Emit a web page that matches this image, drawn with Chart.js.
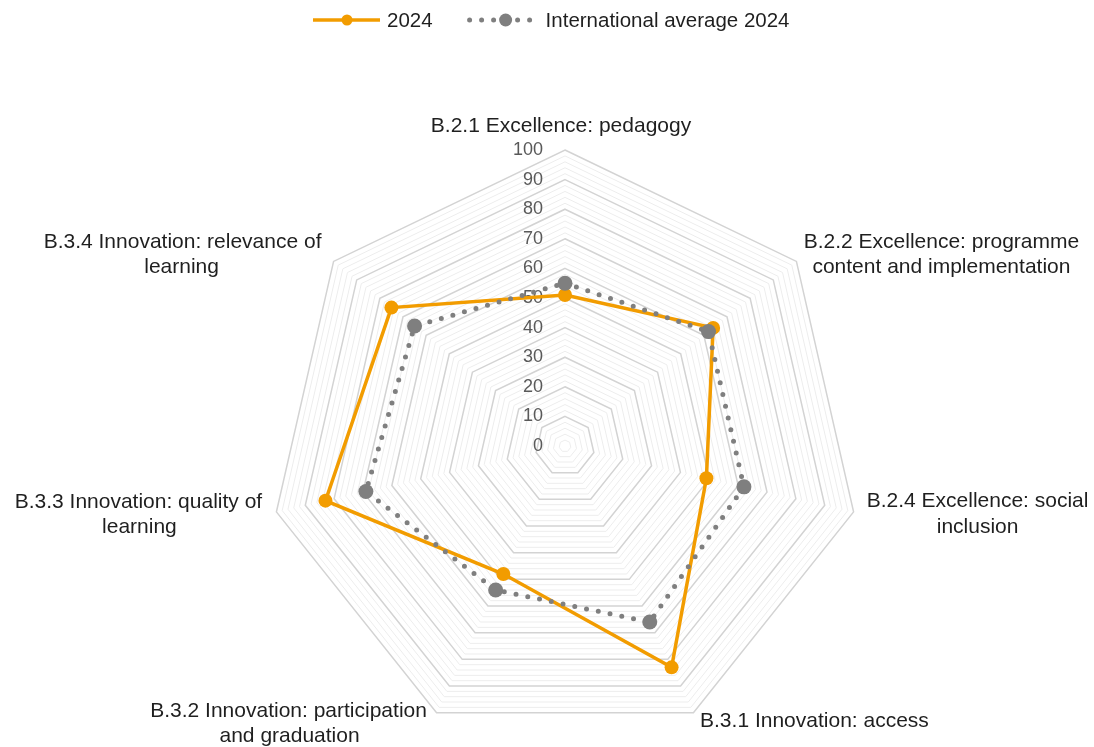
<!DOCTYPE html>
<html>
<head>
<meta charset="utf-8">
<title>Radar</title>
<script src="https://cdn.jsdelivr.net/npm/chart.js@4.4.1/dist/chart.umd.min.js"></script>
<style>
    html, body { margin: 0; padding: 0; background: #fff; overflow: hidden; }
    #wrap { width: 1094px; height: 747px; }
</style>
</head>
<body>
<div id="wrap"><canvas id="radar" width="1094" height="747"></canvas></div>
<script>
'use strict';

// axis names, one entry per spoke, split into the lines they are printed on
var categories = [
    ['B.2.1 Excellence: pedagogy'],
    ['B.2.2 Excellence: programme', 'content and implementation'],
    ['B.2.4 Excellence: social', 'inclusion'],
    ['B.3.1 Innovation: access'],
    ['B.3.2 Innovation: participation', 'and graduation'],
    ['B.3.3 Innovation: quality of', 'learning'],
    ['B.3.4 Innovation: relevance of', 'learning']
];
var series2024 = [51, 64, 49, 83, 48, 83, 75];
var seriesIntl = [55, 62, 62, 66, 54, 69, 65];
var tickLabels = [0, 10, 20, 30, 40, 50, 60, 70, 80, 90, 100];

// where each label line sits relative to the tip of its spoke
var labelOffsets = [
    [[-4, -24]],
    [[145, -19], [145, 6]],
    [[124, -11], [124, 15]],
    [[121, 9]],
    [[-148, -1], [-147, 24]],
    [[-138, -10], [-137, 15]],
    [[-151, -19], [-152, 6]]
];

var ORANGE = '#F29C00';
var GREY = '#7F7F7F';
var FONT = '"Liberation Sans", Arial, sans-serif';

var radarText = {
    id: 'radarText',
    beforeDatasetsDraw: function (chart) {
        var scale = chart.scales.r, ctx = chart.ctx;
        ctx.save();
        ctx.font = '18px ' + FONT;
        ctx.fillStyle = '#595959';
        ctx.textAlign = 'right';
        ctx.textBaseline = 'middle';
        tickLabels.forEach(function (v) {
            ctx.fillText(String(v), scale.xCenter - 22, scale.yCenter - scale.getDistanceFromCenterForValue(v));
        });
        ctx.restore();
    },
    afterDraw: function (chart) {
        var scale = chart.scales.r, ctx = chart.ctx;
        ctx.save();
        ctx.font = '21px ' + FONT;
        ctx.fillStyle = '#1F1F1F';
        ctx.textAlign = 'center';
        ctx.textBaseline = 'middle';
        categories.forEach(function (lines, i) {
            var tip = scale.getPointPosition(i, scale.drawingArea);
            lines.forEach(function (line, j) {
                var off = labelOffsets[i][j];
                ctx.fillText(line, tip.x + off[0], tip.y + off[1]);
            });
        });

        // legend: solid orange line with dot, dotted grey line with dot
        var names = chart.data.datasets.map(function (d) { return d.label; });
        ctx.font = '20.5px ' + FONT;
        ctx.textAlign = 'left';
        var w0 = ctx.measureText(names[0]).width, w1 = ctx.measureText(names[1]).width;
        var total = 67 + 7 + w0 + 37 + 64 + 12 + w1;
        var x = Math.round(chart.width / 2 + 4 - total / 2), y = 20;

        ctx.strokeStyle = ORANGE;
        ctx.lineWidth = 3.5;
        ctx.beginPath();
        ctx.moveTo(x, y);
        ctx.lineTo(x + 67, y);
        ctx.stroke();
        ctx.fillStyle = ORANGE;
        ctx.beginPath();
        ctx.arc(x + 34, y, 5.5, 0, Math.PI * 2);
        ctx.fill();
        x += 74;
        ctx.fillStyle = '#1F1F1F';
        ctx.fillText(names[0], x, y + 1);
        x += w0 + 37;

        ctx.strokeStyle = GREY;
        ctx.lineWidth = 5;
        ctx.lineCap = 'round';
        ctx.setLineDash([0, 12]);
        ctx.beginPath();
        ctx.moveTo(x, y);
        ctx.lineTo(x + 64, y);
        ctx.stroke();
        ctx.setLineDash([]);
        ctx.fillStyle = GREY;
        ctx.beginPath();
        ctx.arc(x + 36, y, 6.5, 0, Math.PI * 2);
        ctx.fill();
        x += 76;
        ctx.fillStyle = '#1F1F1F';
        ctx.fillText(names[1], x, y + 1);
        ctx.restore();
    }
};

var chart = new Chart(document.getElementById('radar'), {
    type: 'radar',
    data: {
        labels: categories,
        datasets: [
            {
                label: '2024',
                data: series2024,
                borderColor: ORANGE,
                backgroundColor: ORANGE,
                borderWidth: 3.5,
                fill: false,
                pointRadius: 7,
                pointBorderWidth: 0,
                pointBackgroundColor: ORANGE,
                order: 1
            },
            {
                label: 'International average 2024',
                data: seriesIntl,
                borderColor: GREY,
                backgroundColor: GREY,
                borderWidth: 5,
                borderDash: [0, 12],
                borderCapStyle: 'round',
                fill: false,
                pointRadius: 7.5,
                pointBorderWidth: 0,
                pointBackgroundColor: GREY,
                order: 0
            }
        ]
    },
    options: {
        responsive: false,
        animation: false,
        devicePixelRatio: 1,
        layout: { padding: { left: 165, right: 129, top: 150, bottom: 5 } },
        plugins: {
            legend: { display: false },
            tooltip: { enabled: false }
        },
        elements: { line: { tension: 0 } },
        scales: {
            r: {
                min: 0,
                max: 100,
                angleLines: { display: false },
                pointLabels: { display: false },
                ticks: { display: false, stepSize: 2, maxTicksLimit: 60 },
                grid: {
                    color: function (c) { return c.tick.value % 10 === 0 ? '#D3D3D3' : '#EDEDED'; },
                    lineWidth: function (c) { return c.tick.value % 10 === 0 ? 1.5 : 1; }
                }
            }
        }
    },
    plugins: [radarText]
});
</script>
</body>
</html>
